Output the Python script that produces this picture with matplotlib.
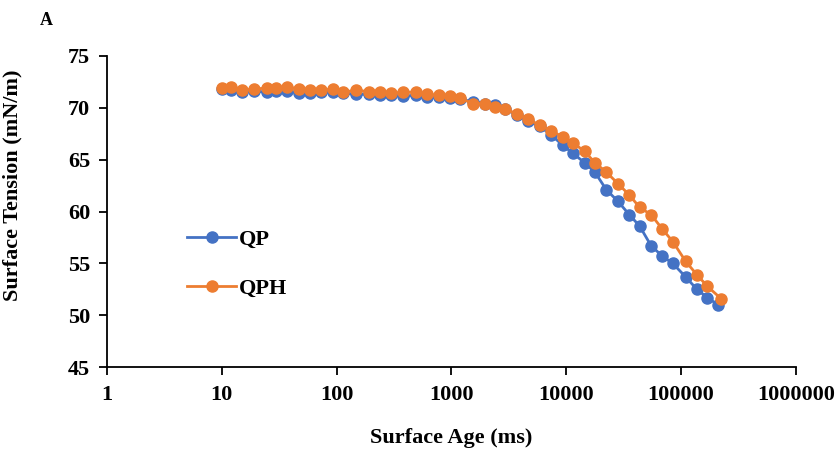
import matplotlib.pyplot as plt
from matplotlib.ticker import FixedLocator, FuncFormatter, NullLocator

plt.rcParams['font.family'] = ['Liberation Serif', 'DejaVu Serif']
plt.rcParams['font.weight'] = 'bold'

# surface age (ms) and dynamic surface tension (mN/m)
age_qp = [10, 12, 15, 19, 25, 30, 37, 47, 59, 74, 93, 115, 148, 190, 240,
          300, 380, 490, 620, 780, 980, 1200, 1550, 1950, 2400, 2950, 3700,
          4700, 5900, 7400, 9300, 11500, 14500, 17800, 22400, 28200, 35500,
          43700, 55000, 69000, 85000, 110000, 138000, 170000, 212000]
tension_qp = [71.8, 71.7, 71.5, 71.6, 71.5, 71.6, 71.6, 71.4, 71.4, 71.5,
              71.5, 71.4, 71.3, 71.3, 71.2, 71.2, 71.1, 71.2, 71.0, 71.0,
              70.9, 70.8, 70.6, 70.4, 70.3, 69.9, 69.3, 68.7, 68.2, 67.4,
              66.4, 65.6, 64.7, 63.8, 62.1, 61.0, 59.7, 58.6, 56.7, 55.7,
              55.0, 53.7, 52.5, 51.7, 51.0]

age_qph = [10, 12, 15, 19, 25, 30, 37, 47, 59, 74, 93, 115, 148, 190, 240,
           300, 380, 490, 620, 780, 980, 1200, 1550, 1950, 2400, 2950, 3700,
           4700, 5900, 7400, 9300, 11500, 14500, 17800, 22400, 28200, 35500,
           43700, 55000, 69000, 85000, 110000, 138000, 170000, 224000]
tension_qph = [71.9, 72.0, 71.7, 71.8, 71.9, 71.9, 72.0, 71.8, 71.7, 71.7,
               71.8, 71.5, 71.7, 71.55, 71.5, 71.4, 71.5, 71.5, 71.3, 71.2,
               71.1, 70.9, 70.4, 70.4, 70.1, 69.9, 69.4, 68.9, 68.3, 67.8,
               67.2, 66.6, 65.8, 64.7, 63.8, 62.7, 61.6, 60.4, 59.7, 58.3,
               57.1, 55.2, 53.9, 52.8, 51.6]

x_ticks = [1, 10, 100, 1000, 10000, 100000, 1000000]
y_ticks = [45, 50, 55, 60, 65, 70, 75]

fig = plt.figure(figsize=(8.35, 4.54), dpi=100)
ax = fig.add_axes([0.128, 0.191, 0.825, 0.686])

ax.plot(age_qp, tension_qp, color='#4472C4', lw=2, marker='o', ms=8,
        label='QP')
ax.plot(age_qph, tension_qph, color='#ED7D31', lw=2, marker='o', ms=8,
        label='QPH')

ax.set_xscale('log')
ax.set_xlim(1, 1000000)
ax.set_ylim(45, 75)
ax.xaxis.set_major_locator(FixedLocator(x_ticks))
ax.xaxis.set_minor_locator(NullLocator())
ax.xaxis.set_major_formatter(FuncFormatter(lambda v, p: f'{int(round(v))}'))
ax.set_yticks(y_ticks)

for s in ['top', 'right']:
    ax.spines[s].set_visible(False)
for s in ['left', 'bottom']:
    ax.spines[s].set_linewidth(1.3)
ax.tick_params(axis='both', direction='out', length=6, width=1.3,
               labelsize=16, pad=6)
ax.tick_params(axis='x', pad=7)

ax.set_xlabel('Surface Age (ms)', fontsize=16, fontweight='bold', labelpad=16)
ax.set_ylabel('Surface Tension (mN/m)', fontsize=16, fontweight='bold')
ax.yaxis.set_label_coords(-0.123, 0.585)

ax.legend(loc='center left', bbox_to_anchor=(0.211, 0.418),
          bbox_transform=fig.transFigure, frameon=False, fontsize=16,
          handlelength=2.2, handletextpad=0.1, labelspacing=1.3, borderpad=0)

fig.text(0.048, 0.955, 'A', fontsize=13, fontweight='bold', va='center')

plt.savefig('out.png', dpi=100)
